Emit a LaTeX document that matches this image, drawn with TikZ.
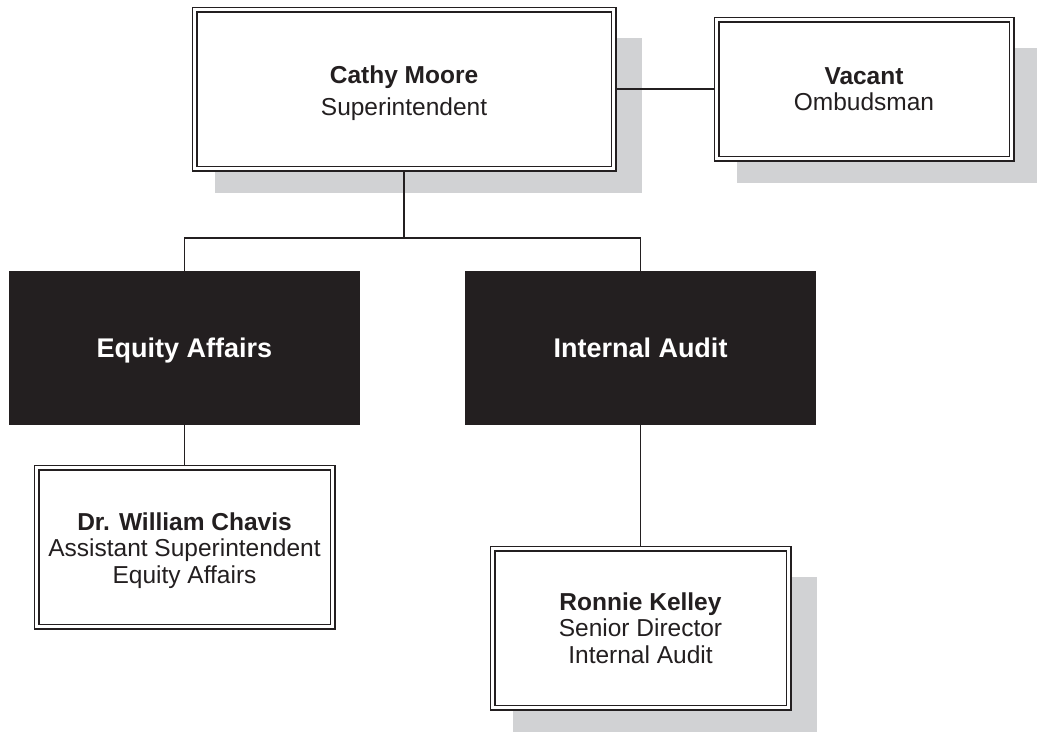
\documentclass[tikz,border=0pt]{standalone}
\usepackage{fontspec}
\setmainfont{Liberation Sans}
\usetikzlibrary{calc,backgrounds}
\definecolor{shadowgray}{HTML}{D1D2D4}
\definecolor{unitblack}{HTML}{231F20}
\pgfdeclarelayer{shadows}
\pgfdeclarelayer{links}
\pgfsetlayers{shadows,links,main}
\tikzset{
  person/.style={draw=unitblack, line width=1.8pt, double=white, double distance=2.4pt,
    fill=white, inner sep=0pt, align=center, text=unitblack,
    font=\fontsize{24.5}{26.5}\selectfont},
  unit/.style={fill=unitblack, draw=none, inner sep=0pt, align=center, text=white,
    minimum width=351pt, minimum height=154pt, text height=19.3pt, text depth=0pt,
    font=\fontsize{27}{30}\selectfont\bfseries},
  link/.style={draw=unitblack, line width=1.5pt},
  shade/.style={fill=shadowgray, draw=none}
}
\begin{document}
\begin{tikzpicture}[x=1pt, y=-1pt]
\useasboundingbox (0,0) rectangle (1037,732);

% boxes
\node[person, minimum width=419pt, minimum height=159pt,
      font=\fontsize{24.5}{32}\selectfont] (cathy) at (404,89)
  {\rule{0pt}{27pt}\textbf{Cathy Moore}\\Superintendent};
\node[person, minimum width=295pt, minimum height=139pt] (vacant) at (864,89)
  {\textbf{Vacant}\\Ombudsman};
\node[unit] (equity) at (184.5,348) {Equity Affairs};
\node[unit] (audit) at (640.5,348) {Internal Audit};
\node[person, minimum width=296pt, minimum height=159pt] (william) at (184.5,547)
  {\rule{0pt}{25pt}\textbf{Dr. William Chavis}\\Assistant Superintendent\\Equity Affairs};
\node[person, minimum width=296pt, minimum height=159pt] (ronnie) at (640.5,628)
  {\textbf{Ronnie Kelley}\\Senior Director\\Internal Audit};

\coordinate (bus) at (404,238);

% drop shadows behind the boxes
\begin{pgfonlayer}{shadows}
  \foreach \n in {cathy,vacant,ronnie}{
    \fill[shade] ($(\n.south west)+(21.5,23.5)$) rectangle ($(\n.north east)+(27.5,29.5)$);
  }
\end{pgfonlayer}

% reporting lines
\begin{pgfonlayer}{links}
  \draw[link] (cathy.east) -- (vacant.west);
  \draw[link] (cathy.south) -- (bus);
  \draw[link] (equity.north) |- (bus) -| (audit.north);
  \draw[link] (equity.south) -- (william.north);
  \draw[link] (audit.south) -- (ronnie.north);
\end{pgfonlayer}
\end{tikzpicture}
\end{document}
